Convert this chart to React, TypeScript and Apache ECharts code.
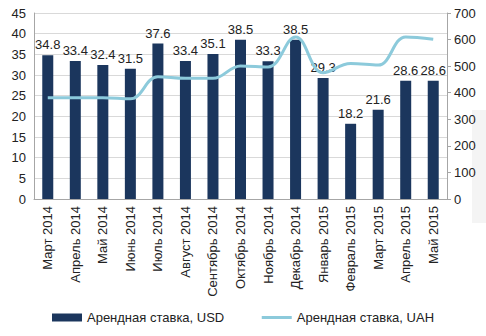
import React, { useEffect, useRef } from "react";
import * as echarts from "echarts";

const categories = [
  "Март 2014", "Апрель 2014", "Май 2014", "Июнь 2014", "Июль 2014", "Август 2014",
  "Сентябрь 2014", "Октябрь 2014", "Ноябрь 2014", "Декабрь 2014", "Январь 2015",
  "Февраль 2015", "Март 2015", "Апрель 2015", "Май 2015",
];
const usdValues = [34.8, 33.4, 32.4, 31.5, 37.6, 33.4, 35.1, 38.5, 33.3, 38.5, 29.3, 18.2, 21.6, 28.6, 28.6];
const uahValues = [381, 381, 381, 377, 460, 454, 454, 501, 497, 610, 475, 510, 504, 610, 601];
const usdName = "Арендная ставка, USD";
const uahName = "Арендная ставка, UAH";

export default function App() {
  const ref = useRef<HTMLDivElement>(null);
  useEffect(() => {
    const chart = echarts.init(ref.current!, null, { renderer: "svg" });
    const font = "Liberation Sans, Arial, sans-serif";
    chart.setOption({
      animation: false,
      textStyle: { fontFamily: font },
      graphic: [
        { type: "rect", left: 472, top: 110, shape: { width: 14, height: 113 }, style: { fill: "#f4f4f4" }, z: -10 },
      ],
      grid: { left: 34, right: 39, top: 13, bottom: 137, containLabel: false },
      legend: {
        bottom: 7,
        left: "center",
        itemGap: 36,
        itemWidth: 30,
        itemHeight: 8,
        textStyle: { fontSize: 13, color: "#222", fontFamily: font },
        data: [
          { name: usdName, icon: "rect" },
          { name: uahName, itemStyle: { opacity: 0 }, lineStyle: { color: "#8ccadb", width: 3 } },
        ],
      },
      xAxis: {
        type: "category",
        data: categories,
        axisLine: { lineStyle: { color: "#a6a6a6" } },
        axisTick: { show: false },
        axisLabel: { rotate: 90, fontSize: 13, color: "#222", interval: 0, margin: 7, fontFamily: font },
      },
      yAxis: [
        {
          type: "value",
          min: 0,
          max: 45,
          interval: 5,
          axisLine: { show: true, lineStyle: { color: "#a6a6a6" } },
          axisTick: { show: false },
          axisLabel: { fontSize: 13, color: "#222", margin: 8, fontFamily: font },
          splitLine: { lineStyle: { color: "#d9d9d9" } },
        },
        {
          type: "value",
          min: 0,
          max: 700,
          interval: 100,
          position: "right",
          axisLine: { show: true, lineStyle: { color: "#a6a6a6" } },
          axisTick: { show: true, length: 4, inside: false, lineStyle: { color: "#a6a6a6" } },
          axisLabel: { fontSize: 13, color: "#222", margin: 7, fontFamily: font },
          splitLine: { show: false },
        },
      ],
      series: [
        {
          name: usdName,
          type: "bar",
          data: usdValues,
          barWidth: 11,
          itemStyle: { color: "#1b365d" },
          label: { show: true, position: "top", fontSize: 13, color: "#222", distance: 4, fontFamily: font },
          z: 2,
        },
        {
          name: uahName,
          type: "line",
          yAxisIndex: 1,
          data: uahValues,
          smooth: 0.4,
          symbol: "none",
          lineStyle: { color: "#8ccadb", width: 3 },
          itemStyle: { color: "#8ccadb" },
          z: 3,
        },
      ],
    });
    return () => chart.dispose();
  }, []);
  return <div ref={ref} style={{ width: 486, height: 336, position: "absolute", left: 0, top: 0 }} />;
}
